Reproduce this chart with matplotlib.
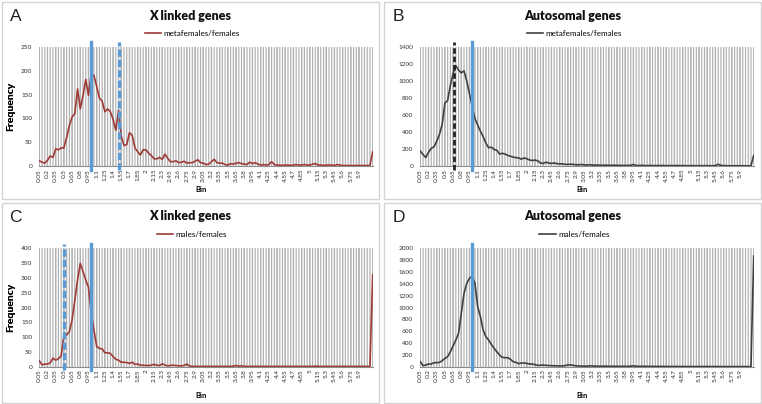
import numpy as np
import matplotlib
matplotlib.use("Agg")
import matplotlib.pyplot as plt
from matplotlib.patches import Rectangle

plt.rcParams['font.family'] = ['Lato', 'DejaVu Sans']

# ---------------- data ----------------
bins = np.round(np.arange(1, 124) * 0.05, 2)          # category positions 0.05 .. 6.15
tick_labels = ['0.05', '0.2', '0.35', '0.5', '0.65', '0.8', '0.95', '1.1', '1.25', '1.4',
               '1.55', '1.7', '1.85', '2', '2.15', '2.3', '2.45', '2.6', '2.75', '2.9',
               '3.05', '3.2', '3.35', '3.5', '3.65', '3.8', '3.95', '4.1', '4.25', '4.4',
               '4.55', '4.7', '4.85', '5', '5.15', '5.3', '5.45', '5.6', '5.75', '5.9']

x_meta_fem = [11, 8, 6, 12, 21, 18, 36, 34, 38, 38,
              60, 85, 103, 110, 162, 120, 148, 182, 148, 194,
              190, 167, 143, 136, 114, 120, 114, 98, 75, 117,
              62, 43, 45, 70, 64, 38, 30, 23, 34, 34,
              27, 22, 15, 15, 18, 14, 25, 16, 9, 9,
              11, 7, 8, 10, 6, 7, 7, 10, 13, 7,
              6, 3, 4, 9, 14, 7, 6, 6, 3, 2,
              5, 4, 6, 7, 5, 4, 3, 8, 5, 7,
              4, 2, 3, 2, 3, 9, 3, 2, 2, 1,
              2, 2, 1, 2, 3, 2, 2, 3, 2, 2,
              4, 5, 2, 2, 1, 2, 2, 2, 1, 3,
              2, 1, 1, 1, 1, 1, 1, 1, 1, 1,
              1, 1, 30]

auto_meta_fem = [175, 135, 100, 160, 208, 225, 290, 370, 490, 740,
                 770, 950, 1090, 1180, 1130, 1095, 1120, 1000, 850, 700,
                 560, 480, 410, 345, 270, 215, 222, 195, 185, 140,
                 150, 140, 125, 115, 105, 98, 95, 80, 95, 85,
                 70, 65, 70, 60, 35, 30, 45, 35, 30, 35,
                 28, 25, 25, 20, 18, 22, 18, 15, 14, 18,
                 12, 12, 15, 10, 10, 12, 9, 8, 10, 8,
                 8, 10, 7, 8, 6, 7, 6, 8, 18, 6,
                 6, 8, 5, 5, 6, 5, 4, 5, 6, 5,
                 4, 5, 5, 4, 6, 4, 5, 4, 3, 4,
                 4, 3, 4, 3, 3, 4, 3, 3, 6, 20,
                 8, 4, 3, 3, 2, 3, 3, 2, 2, 2,
                 2, 3, 125]

x_male_fem = [20, 6, 9, 9, 13, 29, 22, 27, 36, 107,
              107, 118, 158, 225, 293, 349, 321, 293, 268, 180,
              124, 68, 62, 60, 47, 47, 45, 34, 25, 22,
              15, 15, 14, 11, 15, 8, 9, 5, 5, 4,
              4, 5, 8, 5, 4, 10, 5, 3, 4, 5,
              4, 3, 3, 4, 9, 2, 1, 1, 1, 1,
              1, 1, 1, 1, 1, 1, 1, 1, 1, 1,
              1, 2, 4, 2, 3, 1, 1, 1, 1, 1,
              1, 1, 1, 1, 1, 1, 1, 1, 1, 1,
              1, 1, 1, 1, 1, 1, 1, 1, 1, 1,
              1, 2, 1, 1, 1, 1, 1, 1, 1, 1,
              1, 1, 1, 1, 1, 1, 1, 1, 1, 1,
              1, 1, 310]

auto_male_fem = [85, 17, 28, 45, 45, 68, 68, 73, 101, 140,
                 169, 253, 350, 451, 563, 901, 1239, 1408, 1493, 1532,
                 1408, 1014, 845, 620, 507, 451, 377, 310, 253, 197,
                 158, 152, 152, 124, 85, 73, 51, 62, 62, 56,
                 45, 45, 34, 22, 25, 28, 22, 20, 18, 15,
                 15, 12, 14, 18, 30, 30, 22, 14, 12, 10,
                 10, 9, 14, 12, 10, 9, 8, 8, 9, 7,
                 7, 8, 6, 6, 7, 6, 6, 10, 14, 8,
                 6, 5, 8, 5, 5, 5, 4, 4, 5, 4,
                 4, 4, 3, 4, 3, 3, 3, 3, 3, 3,
                 3, 3, 3, 3, 2, 3, 2, 2, 3, 2,
                 2, 2, 2, 2, 2, 2, 2, 2, 2, 2,
                 2, 2, 1870]

panel_letters = ['A', 'B', 'C', 'D']
panel_titles = ['X linked genes', 'Autosomal genes', 'X linked genes', 'Autosomal genes']
series_names = ['metafemales/females', 'metafemales/females', 'males/females', 'males/females']
series_values = [x_meta_fem, auto_meta_fem, x_male_fem, auto_male_fem]
y_max = [250, 1400, 400, 2000]
y_step = [50, 200, 50, 200]
# expected ratios marked by vertical lines: (ratio, kind)
ref_lines = [[(1.0, 'solid'), (1.5, 'dashed')],
             [(2 / 3, 'black'), (1.0, 'solid')],
             [(0.5, 'dashed'), (1.0, 'solid')],
             [(1.0, 'solid')]]

# ---------------- layout ----------------
W, H = 762, 404
fig = plt.figure(figsize=(W / 100, H / 100), dpi=100)
fig.patch.set_facecolor('white')

RED = '#9e3b37'
GREY = '#404040'
BLUE = '#5b9bd5'
line_colors = [RED, GREY, RED, GREY]

frames = [(1.5, 1.5, 377.5, 197.5), (384.5, 1.5, 376, 197.5),
          (1.5, 202.5, 377.5, 200), (384.5, 202.5, 376, 200)]
axes_px = [(39.3, 47, 333.4, 119), (420.3, 47, 333.4, 119),
           (39.3, 248.3, 333.4, 118.4), (420.3, 248.3, 333.4, 118.4)]


def fx(px):
    return px / W


def fy(py):
    return 1 - py / H


label_pos = [bins[3 * i] for i in range(len(tick_labels))]

for i in range(4):
    fl, ft, fw, fh = frames[i]
    fig.patches.append(Rectangle((fx(fl), fy(ft + fh)), fw / W, fh / H, transform=fig.transFigure,
                                 fill=False, edgecolor='#d4d4d4', linewidth=1.0, zorder=0))
    cx = fl + fw / 2
    fig.text(fx(fl + 8), fy(ft + 15), panel_letters[i], fontsize=12.5, family='Liberation Sans',
             ha='left', va='center', color='#222222')
    fig.text(fx(cx), fy(ft + 14), panel_titles[i], fontsize=9, fontweight='heavy',
             ha='center', va='center', color='#111111')

    al, at, aw, ah = axes_px[i]
    ax = fig.add_axes([fx(al), fy(at + ah), aw / W, ah / H])
    ax.set_xlim(bins[0], bins[-1])
    ax.set_ylim(0, y_max[i])
    ax.xaxis.remove_overlapping_locs = False
    ax.set_xticks(bins, minor=True)
    ax.set_xticks(label_pos)
    ax.grid(True, which='both', axis='x', color='#b0b0b0', linewidth=0.85, snap=False)
    ax.set_xticklabels(tick_labels, rotation=90, fontsize=4.6, color='#333333')
    ax.set_yticks(np.arange(0, y_max[i] + 1, y_step[i]))
    ax.tick_params(axis='y', labelsize=4.6, length=0, pad=5, labelcolor='#333333')
    ax.tick_params(axis='x', which='both', length=0, pad=2)
    for s in ['top', 'right', 'left']:
        ax.spines[s].set_visible(False)
    ax.spines['bottom'].set_color('#8c8c8c')
    ax.spines['bottom'].set_linewidth(0.8)
    ax.set_axisbelow(True)

    ln, = ax.plot(bins, series_values[i], color=line_colors[i], linewidth=1.2, zorder=3,
                  solid_joinstyle='round')

    for val, kind in ref_lines[i]:
        if kind == 'solid':
            ax.axvline(val, ymin=-0.03, ymax=1.04, color=BLUE, linewidth=2.4, zorder=4, clip_on=False)
        elif kind == 'dashed':
            ax.axvline(val, ymin=-0.03, ymax=1.04, color=BLUE, linewidth=2.4, zorder=4, clip_on=False,
                       linestyle=(0, (2.2, 0.9)))
        else:
            ax.axvline(val, ymin=-0.03, ymax=1.04, color='#222222', linewidth=2.0, zorder=4,
                       clip_on=False, linestyle=(0, (2.0, 1.0)))

    ax.set_ylabel('Frequency', fontsize=7.5, fontweight='bold', labelpad=4)
    ax.yaxis.set_label_coords(fx(15 - al) * W / aw, 0.5)
    fig.text(fx(al + aw / 2 - 5), fy(ft + 188 if i < 2 else ft + 192.5), 'Bin',
             fontsize=5.5, fontweight='bold', ha='center', va='center')

    leg = fig.legend([ln], [series_names[i]], loc='center', frameon=False,
                     bbox_to_anchor=(fx(cx + 2), fy(ft + 32)), fontsize=5.8,
                     handlelength=2.0, handletextpad=0.3, borderpad=0)

fig.savefig('out.png', dpi=100)
